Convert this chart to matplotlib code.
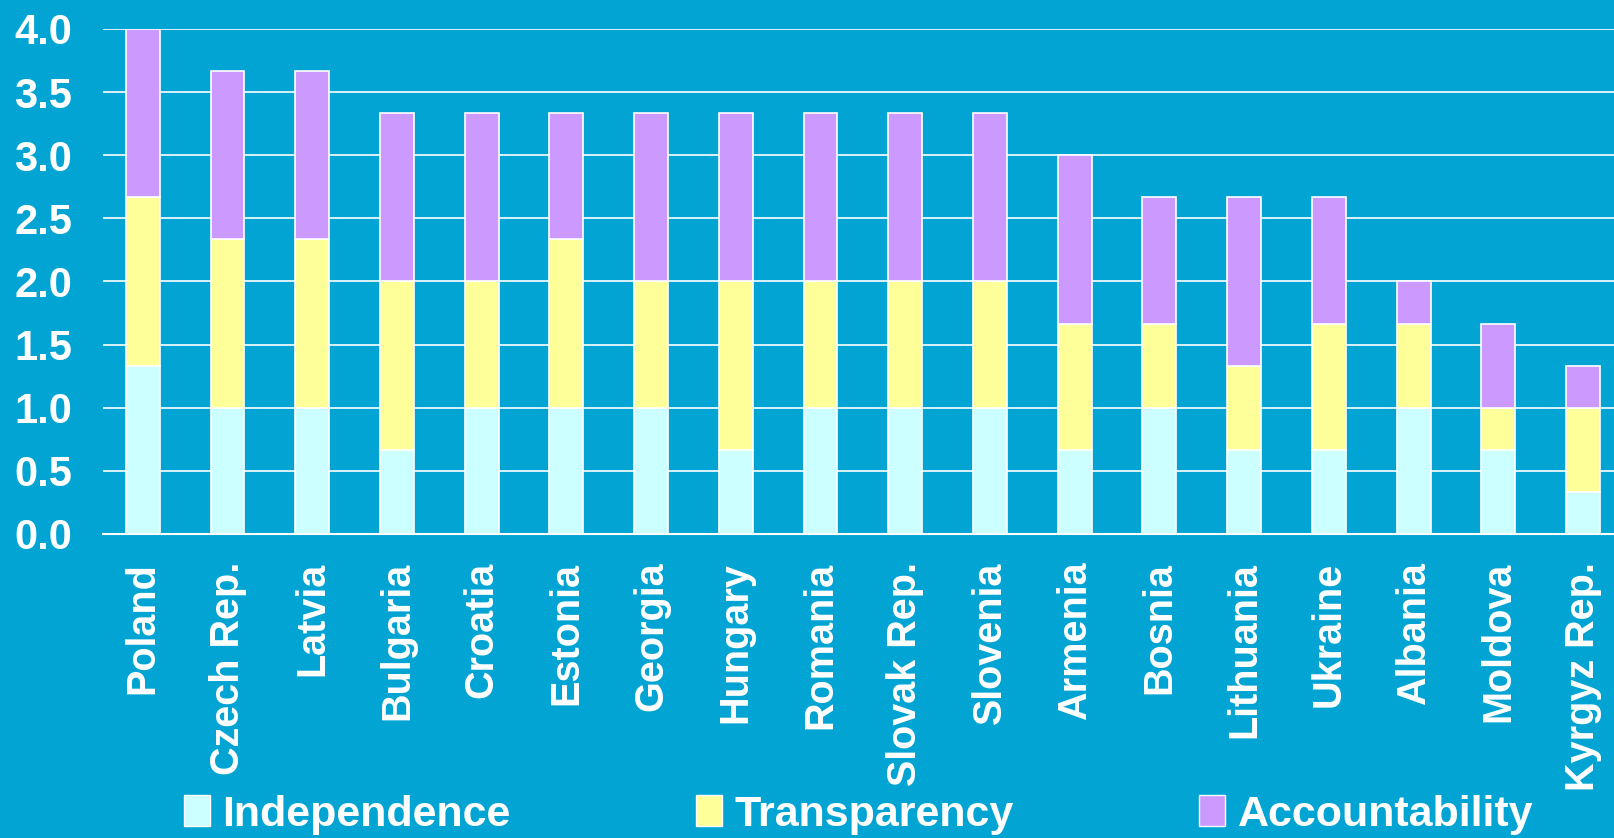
import matplotlib.pyplot as plt
import numpy as np

countries = ['Poland', 'Czech Rep.', 'Latvia', 'Bulgaria', 'Croatia', 'Estonia',
             'Georgia', 'Hungary', 'Romania', 'Slovak Rep.', 'Slovenia', 'Armenia',
             'Bosnia', 'Lithuania', 'Ukraine', 'Albania', 'Moldova', 'Kyrgyz Rep.']
independence = [4/3, 1, 1, 2/3, 1, 1, 1, 2/3, 1, 1, 1, 2/3, 1, 2/3, 2/3, 1, 2/3, 1/3]
transparency = [4/3, 4/3, 4/3, 4/3, 1, 4/3, 1, 4/3, 1, 1, 1, 1, 2/3, 2/3, 1, 2/3, 1/3, 2/3]
accountability = [4/3, 4/3, 4/3, 4/3, 4/3, 1, 4/3, 4/3, 4/3, 4/3, 4/3, 4/3, 1, 4/3, 1, 1/3, 2/3, 1/3]
yticks = [0.0, 0.5, 1.0, 1.5, 2.0, 2.5, 3.0, 3.5, 4.0]

BG = '#02a4d3'
C_IND, C_TRA, C_ACC = '#ccffff', '#ffff99', '#cc99ff'

plt.rcParams['font.family'] = ['Liberation Sans', 'DejaVu Sans']

fig = plt.figure(figsize=(16.14, 8.38), dpi=100, facecolor=BG)
ax = fig.add_axes([0.0638, 0.3628, 0.9362, 0.6026])
ax.set_facecolor(BG)

x = np.arange(len(countries))
ind = np.array(independence); tra = np.array(transparency); acc = np.array(accountability)
w = 0.4
kw = dict(width=w, edgecolor='white', linewidth=1.2, zorder=3)
ax.bar(x, ind, color=C_IND, label='Independence', **kw)
ax.bar(x, tra, bottom=ind, color=C_TRA, label='Transparency', **kw)
ax.bar(x, acc, bottom=ind + tra, color=C_ACC, label='Accountability', **kw)

ax.set_xlim(-0.47, len(countries) - 1 + 0.366)
ax.set_ylim(0, 4.0)
ax.set_yticks(yticks)
ax.set_yticklabels([f'{v:.1f}' for v in yticks])
ax.yaxis.grid(True, color='white', lw=1.2, zorder=0)
ax.set_axisbelow(True)
for s in ['top', 'right', 'left']:
    ax.spines[s].set_visible(False)
ax.spines['bottom'].set_color('white')
ax.spines['bottom'].set_linewidth(1.5)
ax.spines['bottom'].set_zorder(4)

ax.set_xticks(x)
ax.set_xticklabels(countries, rotation=90, va='top', ha='center')
ax.tick_params(axis='both', length=0, colors='white')
ax.tick_params(axis='x', pad=20, labelsize=28.5)
ax.tick_params(axis='y', pad=22, labelsize=30)
for t in ax.get_xticklabels() + ax.get_yticklabels():
    t.set_fontweight('bold')

leg = fig.legend(loc='center', bbox_to_anchor=(0.532, 0.028), ncol=3, frameon=False,
                 handlelength=0.6, handleheight=0.72, handletextpad=0.3,
                 columnspacing=4.3, labelcolor='white', prop={'weight': 'bold', 'size': 31})
for h in leg.legend_handles:
    h.set_edgecolor('white')
    h.set_linewidth(1.0)

fig.savefig('out.png', dpi=100, facecolor=BG)
